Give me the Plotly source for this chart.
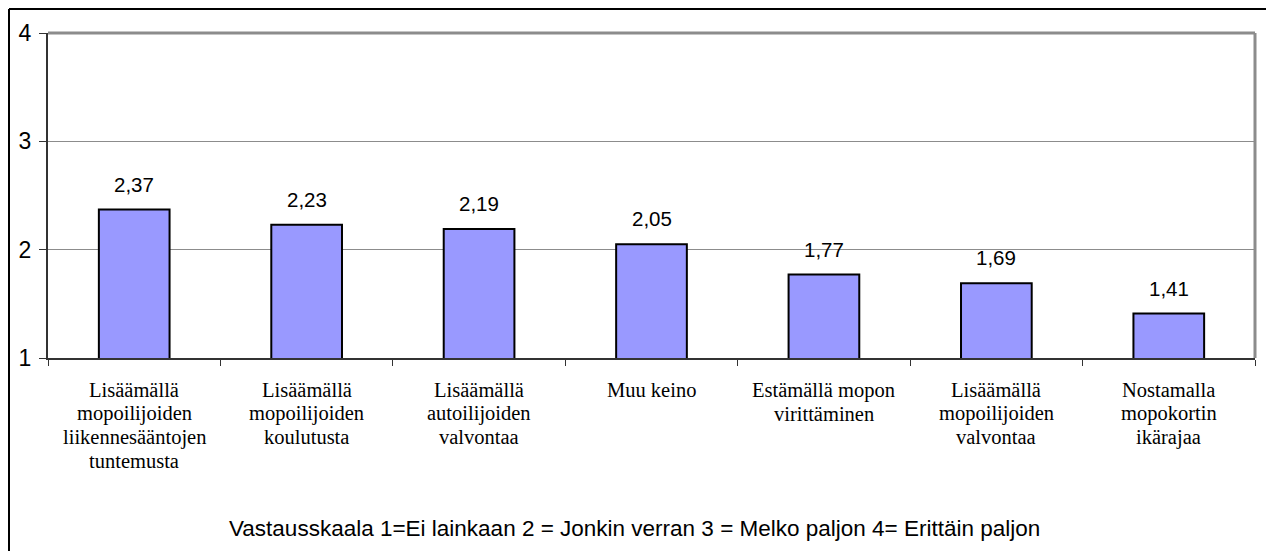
import plotly.graph_objects as go

# Data
categories = [
    "Lisäämällä mopoilijoiden liikennesääntojen tuntemusta",
    "Lisäämällä mopoilijoiden koulutusta",
    "Lisäämällä autoilijoiden valvontaa",
    "Muu keino",
    "Estämällä mopon virittäminen",
    "Lisäämällä mopoilijoiden valvontaa",
    "Nostamalla mopokortin ikärajaa",
]
label_lines = [
    ["Lisäämällä", "mopoilijoiden", "liikennesääntojen", "tuntemusta"],
    ["Lisäämällä", "mopoilijoiden", "koulutusta"],
    ["Lisäämällä", "autoilijoiden", "valvontaa"],
    ["Muu keino"],
    ["Estämällä mopon", "virittäminen"],
    ["Lisäämällä", "mopoilijoiden", "valvontaa"],
    ["Nostamalla", "mopokortin", "ikärajaa"],
]
values = [2.37, 2.23, 2.19, 2.05, 1.77, 1.69, 1.41]
y_ticks = [1, 2, 3, 4]
footnote = "Vastausskaala 1=Ei lainkaan 2 = Jonkin verran 3 = Melko paljon 4= Erittäin paljon"

# the page body adds an 8px offset, so the figure is a bit smaller than the window
W, H = 1266, 543
L, R, T, B = 40, 19, 25, 193
pw, ph = W - L - R, H - T - B


def px_x(x):
    return (x - L) / pw


def px_y(y):
    return (H - B - y) / ph


fig = go.Figure()
fig.add_trace(go.Bar(
    x=categories,
    y=values,
    base=0,
    marker=dict(color="#9999FF", line=dict(color="black", width=2)),
    hoverinfo="skip",
))

for c, v in zip(categories, values):
    fig.add_annotation(
        x=c, y=v, text=f"{v:.2f}".replace(".", ","),
        showarrow=False, yanchor="bottom", yshift=12,
        font=dict(family="Liberation Sans", size=20.5, color="black"),
    )

# category labels, one annotation per line to get the tighter line spacing
for c, lines in zip(categories, label_lines):
    for i, line in enumerate(lines):
        fig.add_annotation(
            x=c, xref="x", y=0, yref="paper", text=line,
            showarrow=False, yanchor="middle", yshift=-32 - 23.7 * i,
            font=dict(family="Liberation Serif", size=20.5, color="black"),
        )

fig.add_annotation(
    xref="paper", yref="paper", x=px_x(626), y=px_y(520),
    text=footnote, showarrow=False, xanchor="center", yanchor="middle",
    font=dict(family="Liberation Sans", size=22.5, color="black"),
)

# gray top/right edges of the plot area
fig.add_shape(type="line", xref="paper", yref="paper", x0=0, x1=1, y0=1, y1=1,
              line=dict(color="#8c8c8c", width=3))
fig.add_shape(type="line", xref="paper", yref="paper", x0=1, x1=1, y0=0, y1=1,
              line=dict(color="#8c8c8c", width=3))
# outer chart border (only left and top visible)
fig.add_shape(type="line", xref="paper", yref="paper",
              x0=px_x(1), x1=px_x(1), y0=px_y(1), y1=px_y(560),
              line=dict(color="black", width=2))
fig.add_shape(type="line", xref="paper", yref="paper",
              x0=px_x(1), x1=px_x(1290), y0=px_y(1), y1=px_y(1),
              line=dict(color="black", width=2))

fig.update_layout(
    width=W, height=H,
    margin=dict(l=L, r=R, t=T, b=B),
    paper_bgcolor="white", plot_bgcolor="white",
    showlegend=False,
    bargap=0.59,
    xaxis=dict(
        showline=True, linecolor="#333333", linewidth=2,
        ticks="outside", tickson="boundaries", ticklen=6, tickcolor="#333333",
        showgrid=False, showticklabels=False, automargin=False,
    ),
    yaxis=dict(
        range=[1, 4], tickvals=y_ticks,
        showline=True, linecolor="#333333", linewidth=2,
        ticks="outside", ticklen=7, tickcolor="#333333",
        showgrid=True, gridcolor="#8c8c8c", gridwidth=1,
        zeroline=False, ticklabelstandoff=3, automargin=False,
        tickfont=dict(family="Liberation Sans", size=23, color="black"),
    ),
)

fig.write_html("out.html")
